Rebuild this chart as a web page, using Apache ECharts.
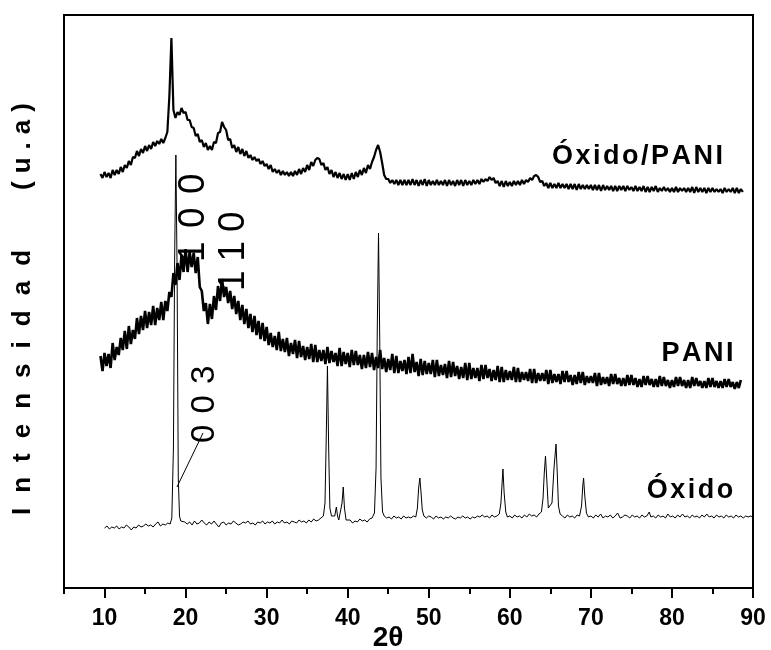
<!DOCTYPE html>
<html><head><meta charset="utf-8">
<script src="https://cdn.jsdelivr.net/npm/echarts@6/dist/echarts.min.js"></script>
<style>html,body{margin:0;padding:0;background:#fff}#c{width:771px;height:650px}</style>
</head><body><div id="c"></div>
<script>
// ---------- axis setup ----------
const xMin = 5, xMax = 90, minorStep = 5, majorStep = 10;
const majorTicks = [10, 20, 30, 40, 50, 60, 70, 80, 90];
const yMin = 0, yMax = 573;

// ---------- data (intensity, arbitrary units) ----------
const scanStep = 0.25;
const oxPaniStart = 9.5;
const oxPaniI = [
414,410,
416,411,415,410, 418,413,418,414, 421,416,423,420, 427,423,431,430, 437,432,439,435,
442,437,443,439, 446,442,447,444, 449,445,450,456, 492,550,478,470, 476,473,480,475,
476,468,468,461, 460,452,454,446, 448,441,445,438, 442,438,446,445, 455,456,466,461,
458,448,449,440, 443,436,441,434, 439,432,437,430, 433,428,431,427, 429,424,427,422,
424,419,423,416, 419,415,418,413, 417,413,416,412, 416,412,417,413, 419,414,420,416,
423,418,426,422, 428,430,429,423, 425,418,421,414, 418,411,416,410, 415,409,414,408,
414,408,415,409, 416,411,418,413, 420,415,423,419, 426,431,438,443, 436,425,413,409,
409,405,408,404, 408,403,408,403, 408,403,408,403, 409,403,408,402, 408,403,409,402,
408,403,407,403, 408,403,407,403, 408,402,408,403, 407,402,408,403, 408,402,408,403,
407,403,408,404, 408,404,409,406, 409,407,411,408, 410,405,407,402, 407,401,407,402,
406,402,407,403, 407,403,408,404, 408,406,410,408, 412,413,411,406, 407,402,405,400,
405,400,404,400, 405,400,404,400, 404,399,404,399, 404,398,404,399, 403,399,403,399,
403,398,403,398, 403,397,403,398, 402,398,402,397, 402,397,402,398, 402,397,402,398,
401,397,402,397, 401,397,402,396, 401,396,401,397, 402,396,400,397, 401,397,400,396,
400,396,401,396, 400,397,400,396, 400,396,401,395, 401,396,400,396, 400,395,400,396,
400,396,399,396, 399,395,400,396, 399,396,400,395, 400,395,399,396
];

const paniStart = 9.5;
const paniI = [
232,217,
235,222,234,220, 245,228,241,233, 250,238,257,239, 262,244,258,249, 270,254,272,258,
277,260,276,263, 282,263,280,268, 286,268,287,277, 296,291,315,303, 325,308,333,316,
339,316,336,321, 335,315,331,301, 297,277,285,264, 284,269,292,278, 302,287,309,291,
301,285,297,279, 292,274,287,268, 283,264,279,260, 274,256,272,253, 267,249,265,247,
261,243,255,241, 252,238,256,237, 249,236,250,232, 245,234,248,230, 247,231,242,228,
241,229,244,226, 243,226,238,227, 238,224,241,225, 237,226,235,222, 240,222,236,224,
235,221,238,223, 237,223,233,219, 233,220,236,221, 235,218,231,220, 238,219,230,216,
229,218,234,215, 232,215,227,217, 228,214,231,215, 234,216,226,212, 229,213,227,214,
225,214,228,211, 228,212,223,213, 224,210,227,211, 226,212,222,209, 221,210,225,208,
225,209,220,210, 220,207,223,209, 223,210,219,207, 218,208,222,206, 221,206,218,208,
217,208,221,206, 220,206,216,208, 216,207,219,205, 219,205,215,207, 215,207,218,204,
218,205,214,206, 214,204,217,206, 217,206,213,203, 213,204,216,205, 216,203,212,205,
212,205,215,202, 215,203,211,204, 211,202,214,204, 214,204,210,202, 210,202,213,203,
213,203,210,201, 209,201,212,203, 212,203,209,201, 209,201,212,202, 211,202,208,200,
208,201,211,202, 211,202,208,200, 208,200,211,202, 210,202,207,200, 207,200,210,201,
210,201,207,200, 207,200,209,201, 209,201,206,199, 206,200,208
];

const oxidoPts = [
[10.0,60],[10.3,62],[10.6,59],[10.9,61],[11.2,60],[11.5,62],[11.8,59],[12.1,61],[12.4,60],[12.7,63],
[13.0,61],[13.3,58],[13.6,61],[13.9,60],[14.2,63],[14.5,61],[14.8,62],[15.1,64],[15.4,62],[15.7,63],
[16.0,61],[16.3,64],[16.6,66],[16.9,62],[17.2,64],[17.5,63],[17.8,65],[18.1,64],[18.3,70],[18.5,140],
[18.65,330],[18.8,433],[18.95,320],[19.1,110],[19.25,72],[19.4,67],[19.6,65],[19.9,66],[20.2,64],[20.5,66],
[20.8,63],[21.1,67],[21.4,64],[21.7,65],[22.0,68],[22.3,65],[22.6,63],[22.9,66],[23.2,64],[23.5,67],
[23.8,64],[24.1,61],[24.4,65],[24.7,66],[25.0,63],[25.3,65],[25.6,64],[25.9,67],[26.2,65],[26.5,63],
[26.8,64],[27.1,66],[27.4,65],[27.7,67],[28.0,64],[28.3,65],[28.6,63],[28.9,66],[29.2,65],[29.5,67],
[29.8,64],[30.1,66],[30.4,65],[30.7,67],[31.0,64],[31.3,66],[31.6,65],[31.9,68],[32.2,65],[32.5,66],
[32.8,64],[33.1,67],[33.4,66],[33.7,65],[34.0,68],[34.3,66],[34.6,67],[34.9,65],[35.2,68],[35.5,66],
[35.8,69],[36.1,67],[36.4,68],[36.7,70],[37.0,72],[37.2,85],[37.35,150],[37.5,222],[37.65,140],[37.8,80],
[38.0,72],[38.2,70],[38.4,72],[38.6,81],[38.75,72],[38.9,68],[39.1,70],[39.3,85],[39.45,101],[39.6,80],
[39.8,68],[40.0,66],[40.3,68],[40.6,65],[40.9,67],[41.2,66],[41.5,69],[41.8,67],[42.1,68],[42.4,66],
[42.7,69],[43.0,70],[43.3,75],[43.5,120],[43.65,260],[43.8,355],[43.95,250],[44.1,110],[44.3,76],[44.5,72],
[44.8,70],[45.1,71],[45.4,69],[45.7,72],[46.0,70],[46.3,71],[46.6,69],[46.9,72],[47.2,70],[47.5,71],
[47.8,70],[48.1,72],[48.4,71],[48.6,80],[48.75,100],[48.9,110],[49.05,95],[49.2,78],[49.4,72],[49.7,70],
[50.0,72],[50.3,71],[50.6,69],[50.9,72],[51.2,70],[51.5,71],[51.8,69],[52.1,71],[52.4,70],[52.7,72],
[53.0,70],[53.3,69],[53.6,71],[53.9,70],[54.2,72],[54.5,70],[54.8,71],[55.1,69],[55.4,71],[55.7,70],
[56.0,72],[56.3,71],[56.6,73],[56.9,71],[57.2,72],[57.5,70],[57.8,73],[58.1,71],[58.4,72],[58.7,74],
[58.9,85],[59.05,105],[59.15,119],[59.3,95],[59.5,76],[59.7,71],[60.0,72],[60.3,70],[60.6,73],[60.9,71],
[61.2,72],[61.5,70],[61.8,73],[62.1,71],[62.4,74],[62.7,72],[63.0,73],[63.3,71],[63.6,74],[63.9,76],
[64.1,90],[64.25,115],[64.4,132],[64.55,110],[64.75,80],[64.95,78],[65.2,85],[65.45,120],[65.7,144],[65.85,115],
[66.0,82],[66.2,74],[66.5,72],[66.8,70],[67.1,73],[67.4,71],[67.7,72],[68.0,70],[68.3,73],[68.6,72],
[68.85,82],[69.0,102],[69.1,110],[69.25,92],[69.45,75],[69.7,71],[70.0,72],[70.3,70],[70.6,73],[70.9,71],
[71.2,74],[71.5,70],[71.8,72],[72.1,71],[72.4,73],[72.7,70],[73.0,72],[73.3,75],[73.6,70],[73.9,71],
[74.2,73],[74.5,72],[74.8,70],[75.1,73],[75.4,71],[75.7,72],[76.0,70],[76.3,73],[76.6,71],[76.9,72],
[77.2,76],[77.4,71],[77.7,72],[78.0,70],[78.3,73],[78.6,71],[78.9,72],[79.2,70],[79.5,74],[79.8,71],
[80.1,72],[80.4,70],[80.7,73],[81.0,71],[81.3,74],[81.6,71],[81.9,72],[82.2,70],[82.5,73],[82.8,71],
[83.1,72],[83.4,70],[83.7,73],[84.0,71],[84.3,74],[84.6,71],[84.9,72],[85.2,70],[85.5,73],[85.8,71],
[86.1,72],[86.4,70],[86.7,73],[87.0,71],[87.3,72],[87.6,70],[87.9,73],[88.2,71],[88.5,72],[88.8,70],
[89.1,72],[89.4,71],[89.7,72],[90.0,71]
];

// ---------- annotations (data coordinates) ----------
const curveLabels = [
  { text: 'Óxido/PANI', at: [65.2, 431] },
  { text: 'PANI',       at: [78.7, 234] },
  { text: 'Óxido',      at: [76.9, 97] }
];
const hklLabels = [
  { text: '100', at: [20.98, 326], size: 37, step: 34 },
  { text: '110', at: [25.91, 297], size: 37, step: 29.5 },
  { text: '003', at: [22.4, 145],  size: 33, step: 29.5 }
];
const leader = [[18.94, 101], [22.15, 155]];

// ---------- chart ----------
const FAM = "'Liberation Sans', Arial, Helvetica, sans-serif";
function scan(start, values) {
  return values.map((v, i) => [start + i * scanStep, v]);
}
const chart = echarts.init(document.getElementById('c'), null, { renderer: 'canvas' });
const GL = 64, GR = 18, GT = 15, GB = 62;
const plotW = 771 - GL - GR;
const majorLeft = GL + (majorTicks[0] - xMin) / (xMax - xMin) * plotW;

chart.setOption({
  animation: false,
  backgroundColor: '#fff',
  grid: [
    { left: GL, right: GR, top: GT, bottom: GB, show: true, borderColor: '#000', borderWidth: 2, containLabel: false },
    { left: majorLeft, right: GR, top: GT, bottom: GB, containLabel: false }
  ],
  xAxis: [
    { type: 'value', gridIndex: 0, min: xMin, max: xMax, interval: minorStep,
      axisLine: { show: true, lineStyle: { color: '#000', width: 2 } },
      axisTick: { show: true, length: 6, lineStyle: { color: '#000', width: 2 } },
      axisLabel: { show: false }, splitLine: { show: false } },
    { type: 'value', gridIndex: 1, min: majorTicks[0], max: majorTicks[majorTicks.length - 1], interval: majorStep,
      axisLine: { show: false },
      axisTick: { show: true, length: 10, lineStyle: { color: '#000', width: 2 } },
      axisLabel: { show: true, margin: 19, color: '#000', fontFamily: FAM, fontWeight: 'bold', fontSize: 23,
        formatter: v => majorTicks.includes(v) ? String(v) : '' },
      splitLine: { show: false } }
  ],
  yAxis: [
    { type: 'value', gridIndex: 0, min: yMin, max: yMax,
      axisLine: { show: true, lineStyle: { color: '#000', width: 2 } },
      axisTick: { show: false }, axisLabel: { show: false }, splitLine: { show: false } },
    { type: 'value', gridIndex: 1, min: yMin, max: yMax, show: false }
  ],
  series: [
    { name: 'Óxido/PANI', type: 'line', xAxisIndex: 0, yAxisIndex: 0, showSymbol: false, symbol: 'none',
      data: scan(oxPaniStart, oxPaniI), lineStyle: { color: '#000', width: 2.2 }, z: 3 },
    { name: 'PANI', type: 'line', xAxisIndex: 0, yAxisIndex: 0, showSymbol: false, symbol: 'none',
      data: scan(paniStart, paniI), lineStyle: { color: '#000', width: 2.6 }, z: 3 },
    { name: 'Óxido', type: 'line', xAxisIndex: 0, yAxisIndex: 0, showSymbol: false, symbol: 'none',
      data: oxidoPts, lineStyle: { color: '#000', width: 1 }, z: 2,
      markLine: { silent: true, symbol: 'none', label: { show: false },
        lineStyle: { color: '#000', width: 1, type: 'solid' },
        data: [[{ coord: leader[0] }, { coord: leader[1] }]] } }
  ]
});

// ---------- text annotations ----------
const mctx = document.createElement('canvas').getContext('2d');
function textEl(ch, font, off) {
  return { type: 'text', x: off, y: 0,
    style: { text: ch, font: font, fill: '#000', textAlign: 'left', textVerticalAlign: 'middle', align: 'left', verticalAlign: 'middle' } };
}
function spaced(text, font, spacing, px, py, rotation) {
  mctx.font = font;
  const children = [];
  let off = 0;
  for (const ch of text) {
    children.push(textEl(ch, font, off));
    off += mctx.measureText(ch).width + spacing;
  }
  return { type: 'group', x: px, y: py, rotation: rotation || 0, children: children, z: 10 };
}
function spacedStep(text, font, step, px, py, rotation) {
  const children = [];
  let off = 0;
  for (const ch of text) {
    children.push(textEl(ch, font, off));
    off += step;
  }
  return { type: 'group', x: px, y: py, rotation: rotation || 0, children: children, z: 10 };
}
const graphics = [];
const curveFont = 'bold 27px ' + FAM;
curveLabels.forEach(l => {
  const p = chart.convertToPixel({ gridIndex: 0 }, l.at);
  graphics.push(spaced(l.text, curveFont, 2.5, p[0], p[1], 0));
});
hklLabels.forEach(l => {
  const p = chart.convertToPixel({ gridIndex: 0 }, l.at);
  graphics.push(spacedStep(l.text, 'normal ' + l.size + 'px ' + FAM, l.step, p[0], p[1], Math.PI / 2));
});
// y-axis title
const yFont = 'bold 26px ' + FAM;
graphics.push(spaced('Intensidad', yFont, 15, 22.5, 515, Math.PI / 2));
graphics.push(spaced('(u.a)', yFont, 8, 22.5, 190, Math.PI / 2));
// x-axis title
graphics.push({ type: 'text', x: 388, y: 638, z: 10,
  style: { text: '2θ', font: 'bold 28px ' + FAM, fill: '#000', textAlign: 'center', textVerticalAlign: 'middle', align: 'center', verticalAlign: 'middle' } });
chart.setOption({ graphic: graphics });
</script>
</body></html>
